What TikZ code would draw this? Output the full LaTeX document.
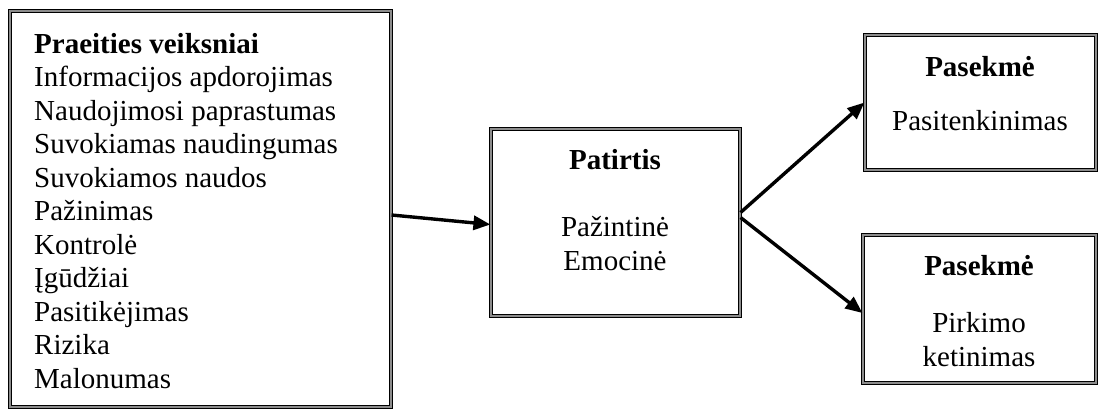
\documentclass[tikz,border=0pt]{standalone}
\usepackage{fontspec}
\setmainfont{Liberation Serif}
\usetikzlibrary{arrows.meta}
\begin{document}
\begin{tikzpicture}[x=1pt,y=-1pt,
  box/.style={draw=black, line width=1.1pt, double=black!45, double distance=1.4pt, inner sep=0pt},
  txt/.style={inner sep=0pt, anchor=base, font=\fontsize{29}{33}\selectfont},
  ltxt/.style={txt, anchor=base west},
  arr/.style={line width=3.4pt, -{Triangle[length=17pt,width=14pt]}, shorten >=0pt}]
\useasboundingbox (0,0) rectangle (1099,412);
\node[box, minimum width=381pt, minimum height=396pt] (L) at (200.5,209) {};
\node[box, minimum width=249pt, minimum height=187pt] (M) at (615.5,222.5) {};
\node[box, minimum width=231pt, minimum height=135pt] (TR) at (980.5,102.5) {};
\node[box, minimum width=233pt, minimum height=148pt] (BR) at (979.5,309) {};
% left box text
\node[ltxt] (l0) at (34,53) {\bfseries Praeities veiksniai};
\node[ltxt] (l1) at (34,86.5) {Informacijos apdorojimas};
\node[ltxt] (l2) at (34,120) {Naudojimosi paprastumas};
\node[ltxt] (l3) at (34,153.5) {Suvokiamas naudingumas};
\node[ltxt] (l4) at (34,187) {Suvokiamos naudos};
\node[ltxt] (l5) at (34,220.5) {Pažinimas};
\node[ltxt] (l6) at (34,254) {Kontrolė};
\node[ltxt] (l7) at (34,287.5) {Įgūdžiai};
\node[ltxt] (l8) at (34,321) {Pasitikėjimas};
\node[ltxt] (l9) at (34,354.5) {Rizika};
\node[ltxt] (l10) at (34,388) {Malonumas};
% middle
\node[txt] (m0) at (615,169) {\bfseries Patirtis};
\node[txt] (m1) at (615,236) {Pažintinė};
\node[txt] (m2) at (615,270) {Emocinė};
% top right
\node[txt] (t0) at (980,77) {\bfseries Pasekmė};
\node[txt] (t1) at (980,130) {Pasitenkinimas};
% bottom right
\node[txt] (b0) at (979,275) {\bfseries Pasekmė};
\node[txt] (b1) at (979,332) {Pirkimo};
\node[txt] (b2) at (979,366) {ketinimas};
% arrows
\draw[arr] ([yshift=-6pt]L.east) -- ([yshift=-2pt]M.west);
\draw[arr] ([yshift=10pt]M.east) -- (TR.west);
\draw[arr] ([yshift=5pt]M.east) -- ([yshift=-4pt]BR.west);
\end{tikzpicture}
\end{document}
